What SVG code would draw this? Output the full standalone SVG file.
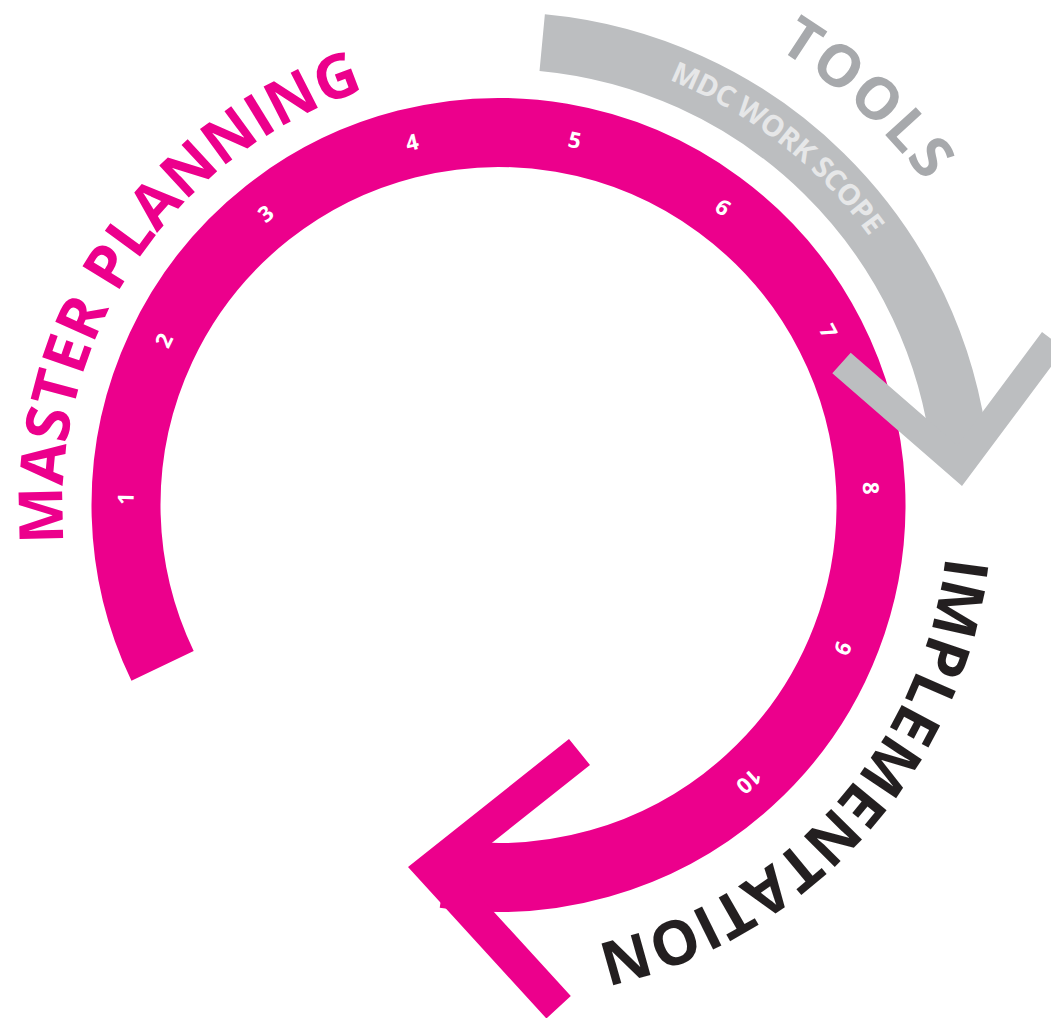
<svg xmlns="http://www.w3.org/2000/svg" xmlns:xlink="http://www.w3.org/1999/xlink" width="1051" height="1018" viewBox="0 0 1051 1018">
  <style>
    .label { font-family: "Open Sans", "Liberation Sans", sans-serif; font-weight: 700; }
    .num { font-family: "Open Sans", "Liberation Sans", sans-serif; font-weight: 700; font-size: 22px; fill: #ffffff; text-anchor: middle; }
    .magenta { fill: #ec008c; }
    .gray { fill: #bcbec0; }
  </style>
  <defs>
    <path id="pMaster" d="M 64.16 543.0 A 436 436 0 0 1 460.5 70.66"/>
    <path id="pImpl" d="M 948.5 505 A 450 450 0 0 1 420.4 948.2"/>
    <path id="pTools" d="M 636.97 -11.77 A 535 535 0 0 1 1015.27 366.53"/>
    <path id="pScope" d="M 578.03 53.96 A 458 458 0 0 1 928.88 348.36"/>
  </defs>
  <rect width="1051" height="1018" fill="#ffffff"/>

  <g id="connectors">
    <g id="cycle-arrow">
      <path d="M 162.57 665.94 A 372.5 372.5 0 1 1 444.73 873.6" fill="none" stroke="#ec008c" stroke-width="69"/>
      <polygon class="magenta" points="408,867 569,739 590,765 456.4,870.9 570.8,996 546.4,1018.5"/>
    </g>
    <g id="tools-arrow">
      <path d="M 542.2 42.6 A 464.5 464.5 0 0 1 960.1 453.2" fill="none" stroke="#bcbec0" stroke-width="57"/>
      <polygon class="gray" points="962,486 832.3,373.3 850.7,352.7 957.5,445.5 1042,332 1064.4,348.8"/>
    </g>
  </g>

  <g id="steps">
    <text class="num" x="498.5" y="140" transform="rotate(271 498.5 505)">1</text>
    <text class="num" x="498.5" y="140" transform="rotate(296.2 498.5 505)">2</text>
    <text class="num" x="498.5" y="140" transform="rotate(321.4 498.5 505)">3</text>
    <text class="num" x="498.5" y="140" transform="rotate(346.6 498.5 505)">4</text>
    <text class="num" x="498.5" y="140" transform="rotate(11.8 498.5 505)">5</text>
    <text class="num" x="498.5" y="140" transform="rotate(37 498.5 505)">6</text>
    <text class="num" x="498.5" y="140" transform="rotate(62.2 498.5 505)">7</text>
    <text class="num" x="498.5" y="140" transform="rotate(87.4 498.5 505)">8</text>
    <text class="num" x="498.5" y="140" transform="rotate(112.6 498.5 505)">9</text>
    <text class="num" x="498.5" y="140" transform="rotate(137.8 498.5 505)">10</text>
  </g>

  <g id="master-planning">
    <text class="label" font-size="61" fill="#ec008c"><textPath xlink:href="#pMaster" href="#pMaster" startOffset="293" text-anchor="middle">MASTER PLANNING</textPath></text>
  </g>
  <g id="implementation">
    <text class="label" font-size="61" fill="#231f20"><textPath xlink:href="#pImpl" href="#pImpl" startOffset="329.8" text-anchor="middle">IMPLEMENTATION</textPath></text>
  </g>
  <g id="tools">
    <text class="label" font-size="58" letter-spacing="2.5" fill="#a7a9ac"><textPath xlink:href="#pTools" href="#pTools" startOffset="254.9" text-anchor="middle">TOOLS</textPath></text>
  </g>
  <g id="work-scope">
    <text class="label" font-size="29" letter-spacing="-0.5" fill="#e6e7e8"><textPath xlink:href="#pScope" href="#pScope" startOffset="223.4" text-anchor="middle">MDC WORK SCOPE</textPath></text>
  </g>
</svg>
